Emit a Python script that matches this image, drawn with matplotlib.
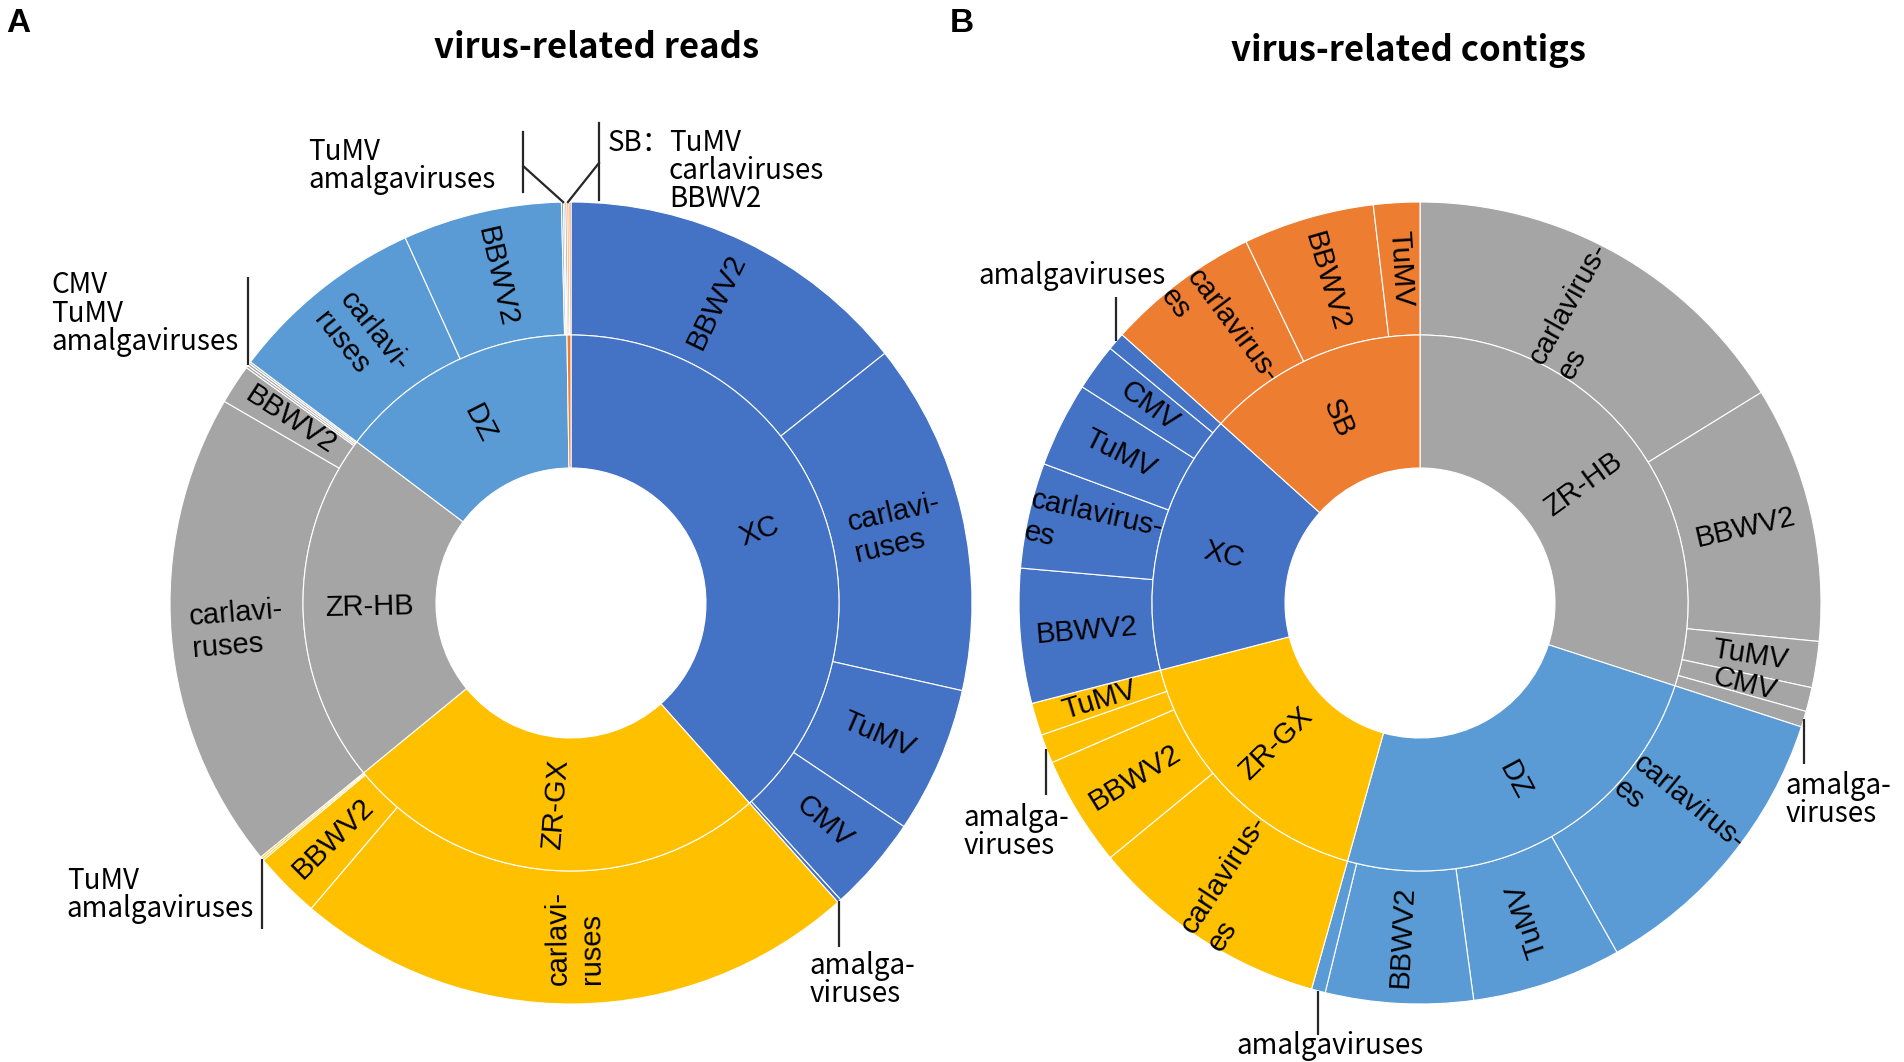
import numpy as np
import matplotlib.pyplot as plt
from matplotlib.patches import Wedge

plt.rcParams['font.family'] = ['Liberation Sans', 'DejaVu Sans']

# share of all virus-related reads / contigs (%)
reads_sites = ['XC', 'ZR-GX', 'ZR-HB', 'DZ', 'SB']
reads_viruses = [
    ['BBWV2', 'carlaviruses', 'TuMV', 'CMV', 'amalgaviruses'],
    ['carlaviruses', 'BBWV2', 'TuMV', 'amalgaviruses'],
    ['carlaviruses', 'BBWV2', 'CMV', 'TuMV', 'amalgaviruses'],
    ['carlaviruses', 'BBWV2', 'TuMV', 'amalgaviruses'],
    ['TuMV', 'carlaviruses', 'BBWV2'],
]
reads_values = [
    [14.3, 14.2, 5.9, 3.85, 0.15],
    [22.8, 2.7, 0.08, 0.08],
    [19.3, 1.6, 0.1, 0.1, 0.08],
    [7.95, 6.4, 0.08, 0.06],
    [0.08, 0.08, 0.08],
]

contigs_sites = ['ZR-HB', 'DZ', 'ZR-GX', 'XC', 'SB']
contigs_viruses = [
    ['carlaviruses', 'BBWV2', 'TuMV', 'CMV', 'amalgaviruses'],
    ['carlaviruses', 'TuMV', 'BBWV2', 'amalgaviruses'],
    ['carlaviruses', 'BBWV2', 'amalgaviruses', 'TuMV'],
    ['BBWV2', 'carlaviruses', 'TuMV', 'CMV', 'amalgaviruses'],
    ['carlaviruses', 'BBWV2', 'TuMV'],
]
contigs_values = [
    [16.2, 10.33, 1.86, 0.97, 0.64],
    [11.83, 6.03, 5.94, 0.56],
    [9.69, 4.44, 1.17, 1.31],
    [5.42, 4.25, 3.42, 1.89, 0.72],
    [6.19, 5.28, 1.86],
]

site_colors = {'XC': '#4472C4', 'DZ': '#5B9BD5', 'ZR-HB': '#A5A5A5',
               'ZR-GX': '#FFC000', 'SB': '#ED7D31'}

R0, R1, R2 = 135, 268, 401   # hole, ring boundary, outer (pixels)
W, H = 1904, 1062
LINE = '#262626'
NOTE_FONT = ['Noto Sans CJK SC', 'DejaVu Sans']


def seg_label(ax, cx, cy, r, ang, text, flip=False):
    t = np.radians(ang)
    x, y = cx + r * np.sin(t), cy - r * np.cos(t)
    rot = (90 - ang + 90) % 180 - 90
    if flip:
        rot += 180
    ax.text(x, y, text, rotation=rot, rotation_mode='anchor', ha='center',
            va='center', multialignment='left', fontsize=21)


def sunburst(ax, cx, cy, sites, viruses, values, wrap, flip=()):
    total = sum(sum(v) for v in values)
    spans = {}
    a = 0.0
    for site, names, vals in zip(sites, viruses, values):
        a0 = a
        for name, v in zip(names, vals):
            da = v / total * 360
            # y axis is inverted, so wedge angles run clockwise on screen
            ax.add_patch(Wedge((cx, cy), R2, a - 90, a + da - 90, width=R2 - R1,
                               fc=site_colors[site], ec='white', lw=0.8))
            spans[(site, name)] = (a, a + da)
            if v >= 0.9 and name != 'amalgaviruses':
                seg_label(ax, cx, cy, (R1 + R2) / 2, a + da / 2,
                          wrap.get(name, name), (site, name) in flip)
            a += da
        ax.add_patch(Wedge((cx, cy), R1, a0 - 90, a - 90, width=R1 - R0,
                           fc=site_colors[site], ec='white', lw=0.8))
        if a - a0 > 5:
            seg_label(ax, cx, cy, (R0 + R1) / 2, (a0 + a) / 2, site)
    return spans


def anchor(spans, cx, cy, site, names):
    a0 = min(spans[(site, n)][0] for n in names)
    a1 = max(spans[(site, n)][1] for n in names)
    t = np.radians((a0 + a1) / 2)
    return cx + R2 * np.sin(t), cy - R2 * np.cos(t)


def note(ax, x, y, text, ha, va):
    ax.text(x, y, text, ha=ha, va=va, multialignment='left', fontsize=20,
            family=NOTE_FONT, fontweight='medium', linespacing=0.92)


def vnote(ax, p, length, text, dx, dy, ha, va):
    x, y = p
    ax.plot([x, x], [y, y + length], color=LINE, lw=1.6, solid_capstyle='butt')
    note(ax, x + dx, y + dy, text, ha, va)


fig = plt.figure(figsize=(W / 100, H / 100), dpi=100)
ax = fig.add_axes([0, 0, 1, 1])
ax.set_xlim(0, W)
ax.set_ylim(H, 0)
ax.set_aspect('equal')
ax.axis('off')

# ---- A: reads ----
cxa, cya = 571, 603
sp = sunburst(ax, cxa, cya, reads_sites, reads_viruses, reads_values,
              {'carlaviruses': 'carlavi-\nruses'}, flip={('ZR-GX', 'carlaviruses')})

vnote(ax, anchor(sp, cxa, cya, 'ZR-HB', ['CMV', 'TuMV', 'amalgaviruses']), -88,
      'CMV\nTuMV\namalgaviruses', -10, -8, 'right', 'bottom')
vnote(ax, anchor(sp, cxa, cya, 'ZR-GX', ['TuMV', 'amalgaviruses']), 70,
      'TuMV\namalgaviruses', -8, 36, 'right', 'center')
vnote(ax, anchor(sp, cxa, cya, 'XC', ['amalgaviruses']), 46,
      'amalga-\nviruses', -30, 50, 'left', 'top')

# the two tiny slivers at 12 o'clock
x, y = anchor(sp, cxa, cya, 'DZ', ['TuMV', 'amalgaviruses'])
ax.plot([x, x - 40], [y, y - 36], color=LINE, lw=1.6)
ax.plot([x - 40, x - 40], [y - 70, y - 10], color=LINE, lw=1.6)
note(ax, x - 68, y - 36, 'TuMV\namalgaviruses', 'right', 'center')
x, y = anchor(sp, cxa, cya, 'SB', ['TuMV', 'carlaviruses', 'BBWV2'])
ax.plot([x, x + 31], [y, y - 39], color=LINE, lw=1.6)
ax.plot([x + 31, x + 31], [y - 79, y - 2], color=LINE, lw=1.6)
note(ax, x + 40, y - 74, 'SB：', 'left', 'top')
note(ax, x + 101, y - 74, 'TuMV\ncarlaviruses\nBBWV2', 'left', 'top')

# ---- B: contigs ----
cxb, cyb = 1420, 603
sp = sunburst(ax, cxb, cyb, contigs_sites, contigs_viruses, contigs_values,
              {'carlaviruses': 'carlavirus-\nes'}, flip={('DZ', 'TuMV')})

vnote(ax, anchor(sp, cxb, cyb, 'XC', ['amalgaviruses']), -44,
      'amalgaviruses', 50, -50, 'right', 'bottom')
vnote(ax, anchor(sp, cxb, cyb, 'ZR-GX', ['amalgaviruses']), 46,
      'amalga-\nviruses', -30, 54, 'center', 'top')
vnote(ax, anchor(sp, cxb, cyb, 'ZR-HB', ['amalgaviruses']), 45,
      'amalga-\nviruses', -18, 52, 'left', 'top')
vnote(ax, anchor(sp, cxb, cyb, 'DZ', ['amalgaviruses']), 44,
      'amalgaviruses', 12, 40, 'center', 'top')

# titles and panel letters
ax.text(597, 48, 'virus-related reads', ha='center', va='center', fontsize=25,
        fontweight='bold', family=NOTE_FONT)
ax.text(1408, 50, 'virus-related contigs', ha='center', va='center', fontsize=25,
        fontweight='bold', family=NOTE_FONT)
ax.text(6, 24, 'A', ha='left', va='center', fontsize=24, fontweight='bold')
ax.text(950, 24, 'B', ha='left', va='center', fontsize=24, fontweight='bold')

fig.savefig('out.png', dpi=100)
